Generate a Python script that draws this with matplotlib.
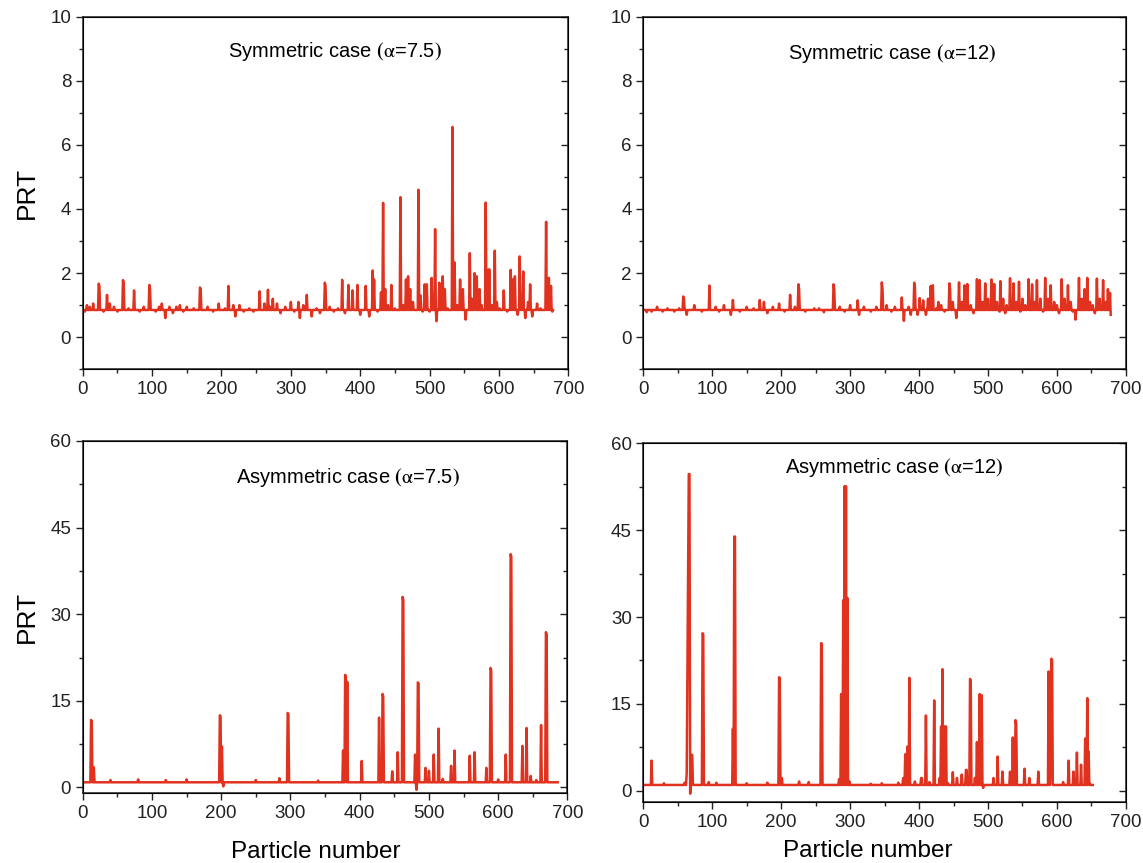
import numpy as np
import matplotlib
matplotlib.use("Agg")
import matplotlib.pyplot as plt
from matplotlib.ticker import MultipleLocator

plt.rcParams['font.family'] = ['Liberation Sans', 'DejaVu Sans']
plt.rcParams['mathtext.fontset'] = 'stix'

RED = '#e0321f'

# symmetric case, alpha = 7.5
sym75_n = 679
sym75_base = 0.85
sym75_pos = [6, 15, 23, 24, 35, 39, 58, 59, 74, 96, 97, 114, 119, 140, 150, 169, 170, 196,
             210, 217, 220, 226, 255, 262, 267, 280, 300, 311, 313, 323, 330, 349, 350, 374,
             378, 383, 389, 396, 400, 408, 413, 418, 420, 425, 430, 433, 436, 440, 445, 450,
             458, 462, 466, 469, 472, 476, 484, 487, 490, 493, 496, 500, 503, 508, 510, 514,
             519, 522, 526, 533, 536, 540, 544, 548, 552, 558, 561, 565, 568, 572, 575, 581,
             583, 586, 590, 594, 597, 601, 607, 612, 617, 620, 623, 627, 630, 632, 635, 638,
             642, 645, 648, 655, 660, 668, 670, 672, 675, 677]
sym75_val = [1.0, 1.05, 1.67, 1.6, 1.32, 1.05, 1.78, 1.7, 1.46, 1.63, 1.5, 1.05, 0.6, 1.0, 0.95,
             1.55, 1.5, 1.05, 1.6, 1.0, 0.65, 1.0, 1.43, 1.05, 1.48, 1.05, 1.1, 1.1, 0.6, 1.32,
             0.65, 1.7, 1.6, 1.79, 0.75, 1.63, 1.46, 1.63, 0.7, 1.6, 0.65, 2.08, 1.8, 0.8, 1.4,
             4.19, 1.5, 1.0, 1.63, 0.9, 4.37, 1.0, 1.8, 1.9, 1.5, 1.1, 4.6, 1.3, 0.8, 1.65, 1.65,
             0.8, 1.85, 3.37, 0.5, 1.7, 1.9, 1.5, 0.9, 6.56, 2.33, 1.0, 1.8, 1.5, 0.55, 2.62, 1.2,
             2.0, 1.9, 1.5, 1.0, 4.2, 2.1, 2.12, 1.0, 2.7, 1.1, 0.9, 1.46, 0.8, 2.1, 1.8, 1.9, 0.7,
             2.52, 1.2, 2.05, 0.6, 1.1, 1.65, 0.65, 1.05, 0.9, 3.6, 1.4, 1.85, 1.6, 0.8]
sym75_rip_pos = [3, 10, 30, 45, 50, 66, 82, 88, 105, 110, 125, 130, 135, 145, 160, 180, 188,
                 205, 232, 240, 246, 270, 274, 285, 292, 305, 318, 337, 342, 356, 362, 368]
sym75_rip_val = [0.8, 0.95, 0.8, 0.95, 0.8, 0.9, 0.8, 0.95, 0.8, 0.95, 0.95, 0.75, 0.95, 0.8,
                 0.9, 0.95, 0.8, 0.9, 0.8, 0.9, 0.8, 0.95, 1.2, 0.75, 0.95, 0.8, 1.0, 0.9, 0.75,
                 0.95, 0.8, 0.9]

# symmetric case, alpha = 12
sym12_n = 679
sym12_base = 0.85
sym12_pos = [20, 35, 58, 59, 63, 74, 96, 117, 127, 130, 150, 169, 175, 180, 197, 213, 225, 226,
             248, 276, 277, 300, 311, 313, 346, 347, 353, 365, 375, 378, 393, 394, 398, 401, 406,
             410, 417, 420, 425, 432, 444, 445, 449, 454, 458, 462, 466, 470, 475, 484, 488, 492,
             496, 500, 505, 509, 513, 518, 522, 527, 532, 537, 541, 545, 550, 554, 559, 564, 568,
             571, 576, 583, 587, 591, 596, 600, 607, 611, 616, 620, 627, 632, 636, 640, 644, 648,
             652, 658, 662, 667, 671, 674, 677, 678]
sym12_val = [0.95, 0.9, 1.27, 1.2, 0.7, 1.0, 1.61, 1.0, 0.7, 1.16, 0.95, 1.16, 1.1, 0.75, 1.05,
             1.32, 1.65, 1.5, 0.9, 1.65, 1.5, 1.0, 1.15, 0.7, 1.71, 1.5, 1.0, 0.95, 1.24, 0.51,
             1.7, 1.6, 0.7, 1.22, 1.15, 0.7, 1.6, 1.62, 0.9, 1.0, 1.68, 1.5, 1.1, 0.6, 1.71, 1.1,
             1.62, 1.66, 1.0, 1.81, 1.78, 1.1, 1.68, 1.2, 1.8, 1.66, 1.1, 1.75, 1.2, 1.0, 1.84,
             1.68, 1.1, 1.73, 1.2, 1.0, 1.81, 1.65, 1.1, 1.78, 1.2, 1.85, 1.2, 1.62, 1.1, 1.0,
             1.81, 1.2, 1.62, 1.1, 0.55, 1.85, 1.2, 1.5, 1.85, 1.1, 1.0, 1.83, 1.2, 1.78, 1.1,
             1.5, 1.38, 0.7]
sym12_rip_pos = [5, 12, 28, 45, 52, 85, 105, 110, 140, 160, 188, 205, 220, 235, 255, 262, 285,
                 292, 320, 330, 338, 360, 385, 388, 413, 428, 437, 479, 517, 525, 547, 557, 580,
                 603, 623, 655]
sym12_rip_val = [0.78, 0.8, 0.8, 0.8, 0.9, 0.8, 0.95, 0.8, 0.8, 0.9, 0.95, 0.8, 0.95, 0.8, 0.9,
                 0.78, 0.95, 0.8, 0.95, 0.8, 0.95, 0.8, 0.95, 0.7, 1.2, 1.1, 0.8, 0.75, 0.8, 0.75,
                 0.8, 0.9, 0.8, 0.75, 0.8, 0.75]

# asymmetric case, alpha = 7.5
asy75_n = 687
asy75_base = 0.9
asy75_pos = [12, 13, 16, 198, 199, 201, 203, 284, 296, 297, 376, 379, 380, 382, 403, 428, 433,
             434, 447, 455, 462, 463, 480, 482, 484, 485, 495, 500, 507, 514, 532, 537, 559, 566,
             583, 589, 590, 611, 618, 619, 635, 641, 647, 662, 669, 670]
asy75_val = [11.7, 11.5, 3.5, 12.5, 12.3, 7.1, 0.2, 1.6, 12.9, 12.7, 6.4, 19.5, 19.0, 18.3, 4.6,
             12.1, 16.2, 15.8, 2.8, 6.1, 33.0, 32.5, 5.7, -0.4, 18.2, 18.0, 3.4, 2.9, 5.7, 10.2,
             3.75, 6.4, 5.5, 6.1, 3.4, 20.7, 20.3, 5.7, 40.4, 40.0, 7.2, 10.3, 2.0, 10.8, 26.9,
             26.5]
asy75_rip_pos = [40, 80, 120, 150, 250, 340, 520, 600, 655]
asy75_rip_val = [1.3, 1.4, 1.3, 1.4, 1.3, 1.2, 1.5, 1.4, 1.3]

# asymmetric case, alpha = 12
asy12_n = 653
asy12_base = 1.0
asy12_pos = [12, 60, 63, 64, 65, 66, 67, 68, 70, 71, 86, 87, 95, 106, 130, 132, 133, 197, 198,
             201, 226, 258, 259, 284, 287, 290, 292, 294, 296, 299, 346, 377, 380, 383, 386, 394,
             403, 404, 410, 415, 422, 430, 432, 434, 437, 439, 442, 449, 455, 462, 468, 469, 474,
             475, 481, 484, 488, 491, 493, 508, 514, 521, 532, 536, 540, 541, 553, 560, 573, 588,
             591, 592, 593, 609, 617, 624, 629, 635, 641, 644, 646, 648]
asy12_val = [5.2, 1.4, 3.0, 20.0, 35.0, 54.7, 54.7, -0.5, 6.2, 6.2, 27.2, 27.0, 1.5, 1.4, 10.7,
             43.9, 43.9, 19.6, 19.4, 2.2, 1.6, 25.5, 25.3, 2.0, 16.7, 32.9, 52.6, 52.6, 33.3,
             1.6, 1.3, 2.2, 6.3, 7.6, 19.5, 1.6, 2.2, 2.2, 13.0, 1.5, 15.6, 2.2, 11.1, 21.0,
             11.1, 11.1, 1.3, 3.2, 2.2, 2.8, 3.6, 3.6, 19.3, 19.0, 2.2, 8.4, 16.7, 16.5, 0.5,
             2.2, 5.9, 3.3, 3.3, 9.2, 12.2, 11.5, 3.8, 2.2, 3.3, 20.6, 6.3, 22.8, 22.5, 1.5,
             5.2, 3.3, 6.6, 4.5, 9.0, 16.0, 6.8, 1.2]
asy12_rip_pos = [30, 150, 180, 240, 330, 370]
asy12_rip_val = [1.3, 1.3, 1.4, 1.5, 1.2, 1.4]

titles = ['Symmetric case $\\mathbf{(}\\mathrm{\\alpha}$=7.5$\\mathbf{)}$',
          'Symmetric case $\\mathbf{(}\\mathrm{\\alpha}$=12$\\mathbf{)}$',
          'Asymmetric case $\\mathbf{(}\\mathrm{\\alpha}$=7.5$\\mathbf{)}$',
          'Asymmetric case $\\mathbf{(}\\mathrm{\\alpha}$=12$\\mathbf{)}$']


def series(n, base, pos, val, rpos, rval):
    y = np.full(n, base)
    y[np.array(rpos)] = rval
    y[np.array(pos)] = val
    return np.arange(n), y


def panel(rect, x, y, ylim, major, minor, title, tpos, ylabel=False, xlabel=None):
    ax = fig.add_axes(rect)
    ax.plot(x, y, color=RED, lw=1.8)
    ax.set_xlim(0, 700)
    ax.set_ylim(*ylim)
    ax.xaxis.set_major_locator(MultipleLocator(100))
    ax.xaxis.set_minor_locator(MultipleLocator(50))
    ax.yaxis.set_major_locator(MultipleLocator(major))
    ax.yaxis.set_minor_locator(MultipleLocator(minor))
    ax.tick_params(which='both', direction='out', labelsize=13.5, width=1, colors='#222222')
    ax.tick_params(which='major', length=4.8)
    ax.tick_params(which='minor', length=3)
    ax.tick_params(axis='y', right=False)
    for s in ax.spines.values():
        s.set_linewidth(1.1)
        s.set_color('#222222')
    tw = ax.twinx()
    tw.set_ylim(*ylim)
    tw.yaxis.set_major_locator(MultipleLocator(major))
    tw.yaxis.set_minor_locator(MultipleLocator(minor))
    tw.tick_params(which='both', direction='in', labelright=False, width=1, colors='#222222')
    tw.tick_params(which='major', length=4.8)
    tw.tick_params(which='minor', length=3)
    ax.text(tpos[0], tpos[1], title, transform=ax.transAxes, ha='center', va='center',
            fontsize=14.5)
    if ylabel:
        ax.set_ylabel('PRT', fontsize=19, labelpad=8)
    if xlabel is not None:
        ax.set_xlabel('Particle number', fontsize=17.5)
        ax.xaxis.set_label_coords(xlabel[0], xlabel[1])
    return ax


fig = plt.figure(figsize=(11.43, 8.63), dpi=100)

x, y = series(sym75_n, sym75_base, sym75_pos, sym75_val, sym75_rip_pos, sym75_rip_val)
panel([0.0724, 0.5721, 0.4248, 0.4086], x, y, (-1, 10), 2, 1, titles[0], (0.52, 0.90),
      ylabel=True)
x, y = series(sym12_n, sym12_base, sym12_pos, sym12_val, sym12_rip_pos, sym12_rip_val)
panel([0.5628, 0.5721, 0.4222, 0.4086], x, y, (-1, 10), 2, 1, titles[1], (0.516, 0.895))
x, y = series(asy75_n, asy75_base, asy75_pos, asy75_val, asy75_rip_pos, asy75_rip_val)
panel([0.0724, 0.0808, 0.4240, 0.4082], x, y, (-1, 60), 15, 7.5, titles[2], (0.547, 0.895),
      ylabel=True, xlabel=(0.48, -0.135))
x, y = series(asy12_n, asy12_base, asy12_pos, asy12_val, asy12_rip_pos, asy12_rip_val)
panel([0.5628, 0.0703, 0.4222, 0.4160], x, y, (-2, 60), 15, 7.5, titles[3], (0.519, 0.934),
      xlabel=(0.465, -0.105))

fig.savefig('out.png', dpi=100)
